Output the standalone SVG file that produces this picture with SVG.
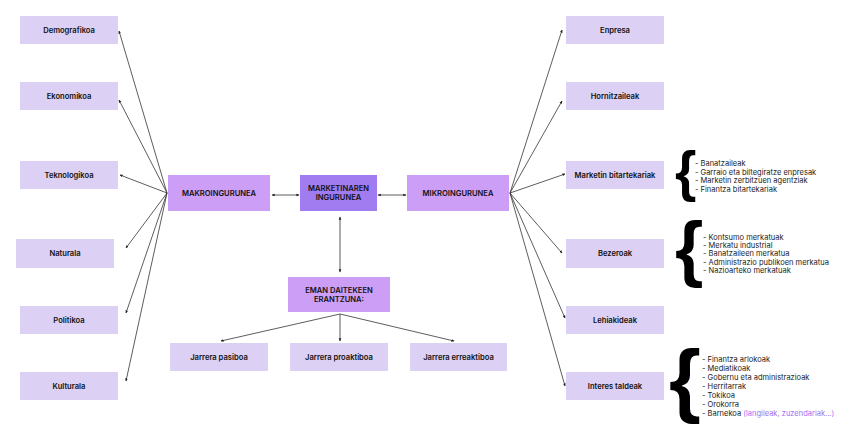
<svg xmlns="http://www.w3.org/2000/svg" width="848" height="445" viewBox="0 0 848 445">
<style>
.lt{fill:#dcd0f4}
.md{fill:#cc9ef5}
.dk{fill:#a07cf0}
.lbl{font-family:Inter,"Liberation Sans",sans-serif;font-size:7.6px;font-weight:600;fill:#111;text-anchor:middle}
.lst{font-family:Inter,"Liberation Sans",sans-serif;font-size:7.5px;fill:#1a1a1a}
.br{font-family:"Liberation Sans",Arial,sans-serif;font-weight:bold;fill:#000}
.cn{stroke:#333;stroke-width:0.8;fill:none;marker-end:url(#ah)}
.both{marker-start:url(#ahs)}
</style>
<defs>
<marker id="ah" viewBox="0 0 6 6" refX="5" refY="3" markerWidth="4" markerHeight="4" orient="auto"><path d="M0,0.5 L6,3 L0,5.5 Z" fill="#222"/></marker>
<marker id="ahs" viewBox="0 0 6 6" refX="1" refY="3" markerWidth="4" markerHeight="4" orient="auto"><path d="M6,0.5 L0,3 L6,5.5 Z" fill="#222"/></marker>
</defs>
<rect width="848" height="445" fill="#fff"/>
<g id="connectors">
<line class="cn" x1="167" y1="193" x2="119" y2="31"/>
<line class="cn" x1="167" y1="193" x2="119" y2="100"/>
<line class="cn" x1="167" y1="193" x2="120" y2="175"/>
<line class="cn" x1="167" y1="193" x2="126" y2="248"/>
<line class="cn" x1="167" y1="193" x2="126" y2="313"/>
<line class="cn" x1="167" y1="193" x2="126" y2="381"/>
<line class="cn" x1="510" y1="193" x2="562" y2="30"/>
<line class="cn" x1="510" y1="193" x2="562" y2="101"/>
<line class="cn" x1="510" y1="193" x2="565" y2="174"/>
<line class="cn" x1="510" y1="193" x2="562" y2="253"/>
<line class="cn" x1="510" y1="193" x2="565" y2="318"/>
<line class="cn" x1="510" y1="193" x2="565" y2="386"/>
<line class="cn both" x1="299" y1="195" x2="272" y2="195"/>
<line class="cn both" x1="378" y1="195" x2="406" y2="195"/>
<line class="cn both" x1="340" y1="217" x2="340" y2="272"/>
<line class="cn" x1="340" y1="314" x2="221" y2="341"/>
<line class="cn" x1="340" y1="314" x2="340" y2="341"/>
<line class="cn" x1="340" y1="314" x2="454" y2="341"/>
</g>
<g id="demografikoa"><rect class="lt" x="20" y="16" width="98" height="28"/><text class="lbl" x="69" y="32.5">Demografikoa</text></g>
<g id="ekonomikoa"><rect class="lt" x="20" y="82" width="98" height="28"/><text class="lbl" x="69" y="98.5">Ekonomikoa</text></g>
<g id="teknologikoa"><rect class="lt" x="20" y="161" width="98" height="28"/><text class="lbl" x="69" y="177.5">Teknologikoa</text></g>
<g id="naturala"><rect class="lt" x="16" y="239" width="98" height="29"/><text class="lbl" x="65" y="256">Naturala</text></g>
<g id="politikoa"><rect class="lt" x="20" y="306" width="98" height="28"/><text class="lbl" x="69" y="322.5">Politikoa</text></g>
<g id="kulturala"><rect class="lt" x="20" y="372" width="98" height="28"/><text class="lbl" x="69" y="388.5">Kulturala</text></g>
<g id="makroingurunea"><rect class="md" x="168" y="175" width="102" height="36"/><text class="lbl" x="219" y="195.5">MAKROINGURUNEA</text></g>
<g id="marketinaren"><rect class="dk" x="300" y="175" width="77" height="36"/><text class="lbl" x="338.5" y="191">MARKETINAREN</text><text class="lbl" x="338.5" y="200">INGURUNEA</text></g>
<g id="mikroingurunea"><rect class="md" x="407" y="175" width="102" height="36"/><text class="lbl" x="458" y="195.5">MIKROINGURUNEA</text></g>
<g id="eman"><rect class="md" x="288" y="277" width="102" height="35"/><text class="lbl" x="339" y="292.5">EMAN DAITEKEEN</text><text class="lbl" x="339" y="301.5">ERANTZUNA:</text></g>
<g id="pasiboa"><rect class="lt" x="170" y="343" width="98" height="28"/><text class="lbl" x="219" y="359.5">Jarrera pasiboa</text></g>
<g id="proaktiboa"><rect class="lt" x="290" y="343" width="98" height="28"/><text class="lbl" x="339" y="359.5">Jarrera proaktiboa</text></g>
<g id="erreaktiboa"><rect class="lt" x="410" y="343" width="97" height="28"/><text class="lbl" x="458.5" y="359.5">Jarrera erreaktiboa</text></g>
<g id="enpresa"><rect class="lt" x="566" y="16" width="98" height="28"/><text class="lbl" x="615" y="32.5">Enpresa</text></g>
<g id="hornitzaileak"><rect class="lt" x="566" y="82" width="98" height="28"/><text class="lbl" x="615" y="98.5">Hornitzaileak</text></g>
<g id="bitartekariak"><rect class="lt" x="566" y="161" width="98" height="28"/><text class="lbl" x="615" y="177.5">Marketin bitartekariak</text></g>
<g id="bezeroak"><rect class="lt" x="566" y="239" width="98" height="29"/><text class="lbl" x="615" y="256">Bezeroak</text></g>
<g id="lehiakideak"><rect class="lt" x="566" y="306" width="98" height="28"/><text class="lbl" x="615" y="322.5">Lehiakideak</text></g>
<g id="interes"><rect class="lt" x="566" y="372" width="98" height="28"/><text class="lbl" x="615" y="388.5">Interes taldeak</text></g>
<g id="list1">
<text class="br" x="675" y="190" font-size="55">{</text>
<text class="lst" x="695" y="165.5">- Banatzaileak</text>
<text class="lst" x="695" y="174.5">- Garraio eta biltegiratze enpresak</text>
<text class="lst" x="695" y="183">- Marketin zerbitzuen agentziak</text>
<text class="lst" x="695" y="191.5">- Finantza bitartekariak</text>
</g>
<g id="list2">
<text class="br" x="675" y="273" font-size="73">{</text>
<text class="lst" x="703" y="239.5">- Kontsumo merkatuak</text>
<text class="lst" x="703" y="247.5">- Merkatu industrial</text>
<text class="lst" x="703" y="256">- Banatzaileen merkatua</text>
<text class="lst" x="703" y="264.5">- Administrazio publikoen merkatua</text>
<text class="lst" x="703" y="273">- Nazioarteko merkatuak</text>
</g>
<g id="list3">
<text class="br" x="669" y="406.5" font-size="82">{</text>
<text class="lst" x="702" y="361.5">- Finantza arlokoak</text>
<text class="lst" x="702" y="370.5">- Mediatikoak</text>
<text class="lst" x="702" y="379.5">- Gobernu eta administrazioak</text>
<text class="lst" x="702" y="388.5">- Herritarrak</text>
<text class="lst" x="702" y="397.5">- Tokikoa</text>
<text class="lst" x="702" y="406.5">- Orokorra</text>
<text class="lst" x="702" y="415.5">- Barnekoa <tspan fill="#a46cf2">(langileak, zuzendariak...)</tspan></text>
</g>
</svg>
